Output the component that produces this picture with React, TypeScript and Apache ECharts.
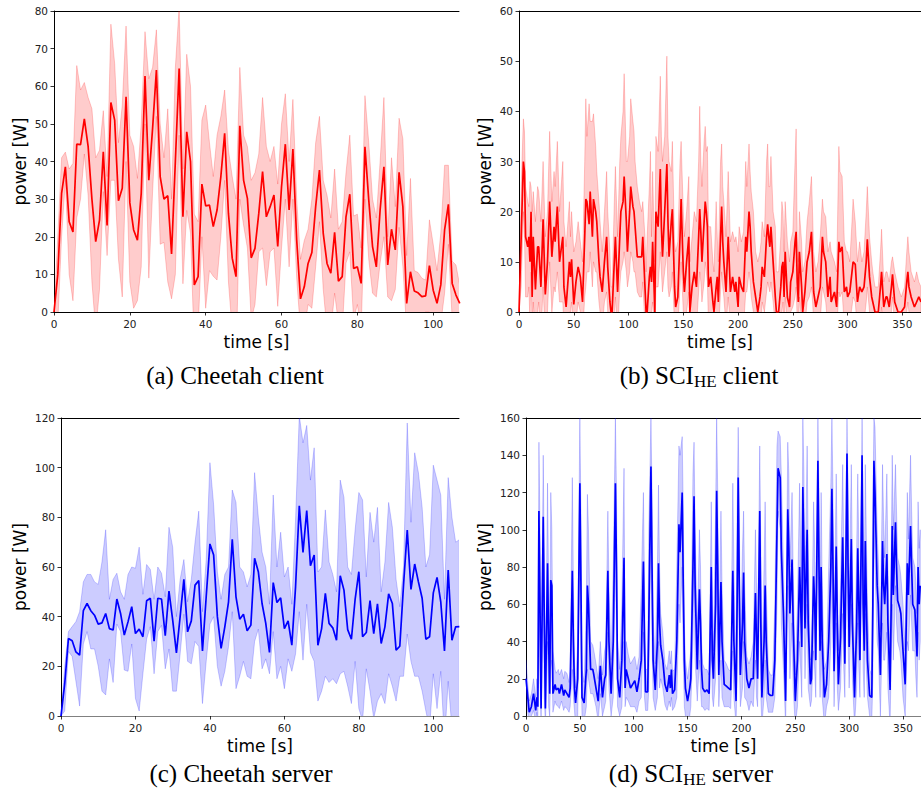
import React, { useEffect, useRef } from 'react';
import * as echarts from 'echarts';

// ---------- (a) Cheetah client : 1 s sampling, t = 0..107 ----------
const meanA = [0, 10, 31.5, 38.6, 24, 21.3, 44.6, 44.5, 51.3, 44,
  30, 18.7, 24.4, 42.6, 23, 55.7, 51, 29.6, 32.9, 57.2,
  29, 21.8, 19.1, 31.5, 62.7, 35, 48.8, 64.3, 36, 30,
  30.9, 15.4, 40, 64.7, 25.3, 47.9, 40, 7.2, 9.4, 34,
  28.2, 28.4, 22.7, 27.1, 36, 47.5, 26.2, 14.3, 9.4, 49.5,
  35, 30.2, 14.4, 16.9, 26.2, 37.3, 25.3, 28, 31.1, 17.4,
  33.3, 44.6, 27.1, 43.3, 19.1, 3.5, 6.7, 12.9, 15.8, 28,
  37.7, 20.9, 12.9, 10.3, 21.2, 8.2, 9.4, 25.3, 31.3, 11.6,
  12, 7.6, 43.9, 29.8, 17.4, 12, 27.1, 38.6, 12.5, 22,
  16.5, 37.1, 28, 2.3, 10.7, 5.6, 5.1, 4.1, 4.3, 12.3,
  5.8, 2.3, 7.2, 21.8, 28.6, 7.6, 4.5, 2.3];
const upperA = [0, 20, 41, 42.5, 38, 39.5, 65.5, 59, 61, 57,
  54, 41, 43, 53.5, 36, 76.5, 66, 45, 55, 76,
  47, 44, 35.5, 50, 74.5, 62, 65, 75, 50, 41,
  54, 30, 65, 81, 38, 68.5, 60, 26, 24, 51,
  55, 45, 36, 47, 52, 59, 43, 36, 30, 65,
  47, 44, 35, 37, 42, 57, 44, 40, 44, 34,
  50, 58, 40, 56.5, 30, 14, 19, 22, 30, 45,
  52, 35, 31, 25, 38, 22, 24, 37, 47, 25.5,
  26, 17, 57.5, 45, 30, 25, 40, 57, 20, 41,
  28, 51.5, 46, 15, 35.5, 11, 10.5, 9, 8.5, 24.5,
  18, 11, 21, 39, 39, 13.5, 12.5, 7];
const lowerA = [0, -3, 20, 35, 10, 3, 25, 30, 42, 31,
  8, -5, 6, 32, 15, 35, 35, 14, 4, 40,
  8, 1, 3, 12, 50, 9, 32, 52, 18, 18.5,
  8, 3.5, 10, 47, 7.5, 27, 21, -10, -5, 20,
  1, 11, 9.5, 8.5, 20, 35, 8, -5, -15, 30,
  23, 17, -2, 2, 16, 17, 7, 16, 17, 1.5,
  17, 30, 12, 30, 9, -5, -5, 2, 1, 12,
  24, 6, -5, -5, 5, -3, -5, 13, 16, -2,
  2, -5, 30, 14, 5, 4, 13, 20, 4, 3,
  6, 22.5, 12, -5, -3, -2, -1, -1, 0, 0,
  -5, -5, -3, 5, 18, -2, -3, -3];
const tA = meanA.map((_, i) => i);

// ---------- (c) Cheetah server : 1 s sampling, t = 0..107 ----------
const meanC = [0, 13, 31.2, 30.3, 25.8, 24.5, 42.4, 45.3, 42.4, 40.6,
  37, 37.5, 41.3, 35.2, 34.6, 47.1, 41.3, 32.6, 37.9, 44,
  33.2, 35, 31.9, 46.4, 47.4, 30.1, 47.4, 47.1, 32.3, 50.3,
  38.6, 25.4, 40, 55, 33.9, 38.3, 52.7, 54.5, 26.2, 48,
  69.3, 64.8, 40, 27.2, 35.9, 46, 71.2, 48, 39, 41,
  34.3, 36.6, 63.5, 58.1, 45.3, 37.3, 25.6, 53.7, 45.7, 47.6,
  35.2, 38.3, 28.5, 52, 84.6, 65.9, 82.7, 60.5, 64.8, 28.5,
  35.2, 49.4, 37.3, 35.5, 30.5, 56.5, 50.7, 34.8, 30.9, 47,
  58.1, 31.9, 33.6, 46.5, 33.2, 45.2, 29.2, 35.9, 49.2, 45.3,
  26.5, 28.1, 52.7, 74.9, 51, 61.2, 54, 47.4, 30.9, 31.9,
  49.6, 55.8, 46, 26.2, 58.8, 30.5, 35.9, 36];
const upperC = [0, 20, 34, 36, 38, 42, 54, 57, 57, 54,
  53, 62, 75, 47, 55, 57.5, 50, 47, 57, 60,
  59.5, 68, 49, 61, 59, 47, 60, 57.5, 48, 76,
  68, 40, 55, 63, 46, 55, 70, 82.5, 42, 63,
  102, 85, 58, 47, 57, 60, 91, 86, 60, 58,
  52, 57, 98, 80, 66, 60, 45, 89, 60, 74,
  56, 60, 45, 79, 121, 110, 117, 95, 108, 58,
  60, 83, 62, 57, 50, 95, 88, 60, 57, 75,
  90, 87, 56, 82, 70, 84, 50, 62, 86, 76,
  55, 44, 60, 118, 78, 106, 98, 84, 60, 65,
  101, 95, 89, 47, 96, 80, 70, 71];
const lowerC = [0, 2, 26, 24, 14, 4, 29, 34, 27, 27,
  20, 10, 8.5, 23, 13.5, 37, 34, 18.5, 18, 29,
  7, 2, 17, 31, 36, 17, 34, 36.5, 19, 27,
  10, 10, 25, 41, 22, 21, 30, 28, 5, 22,
  37, 40, 20, 12, 18, 28, 42, 11, 16, 22,
  16, 15, 30, 35, 19, 23, 17, 34, 15, 20,
  11, 23, 18, 25, 42, 22.5, 45, 25.5, 22, 6,
  10, 16, 13.5, 15, 13, 17, 18, 12, 5, 22,
  3, -2, 19, 10, -1, 6, 9, 5, 17, 12,
  6, 16, 16, 33, 22, 16, 16, 10, 2, -5,
  17, 3, 18, -10, 14, -5, -10, -5];
const tC = meanC.map((_, i) => i);

// ---------- (b) SCI_HE client ----------
const tB = [0, 2, 4, 5, 6, 8, 9, 10, 11, 12,
  13, 15, 17, 18, 20, 22, 24, 26, 28, 30,
  32, 33, 35, 37, 40, 41, 43, 46, 47, 48,
  50, 52, 54, 56, 58, 60, 61, 62, 64, 65,
  67, 68, 70, 71, 73, 74, 76, 78, 80, 81,
  83, 84, 85, 87, 88, 90, 92, 93, 95, 96,
  98, 99, 101, 102, 104, 105, 106, 108, 110, 112,
  113, 115, 116, 117, 119, 120, 121, 122, 124, 125,
  127, 129, 130, 131, 133, 135, 136, 137, 139, 140,
  142, 143, 145, 147, 148, 150, 151, 153, 155, 156,
  158, 160, 162, 164, 165, 166, 167, 169, 170, 171,
  172, 173, 175, 177, 178, 180, 181, 182, 184, 185,
  186, 187, 189, 191, 193, 195, 197, 198, 200, 201,
  203, 205, 207, 208, 210, 211, 212, 214, 216, 218,
  220, 221, 222, 224, 226, 227, 228, 229, 230, 232,
  234, 235, 237, 239, 240, 241, 242, 243, 245, 247,
  248, 250, 252, 253, 254, 255, 256, 258, 259, 261,
  263, 265, 267, 268, 269, 271, 273, 275, 277, 278,
  280, 282, 284, 285, 288, 290, 292, 293, 295, 297,
  299, 300, 302, 304, 305, 307, 309, 311, 313, 315,
  317, 318, 320, 322, 323, 325, 328, 330, 331, 333,
  335, 336, 338, 340, 341, 343, 346, 349, 352, 354,
  355, 356, 358, 361, 363, 365, 367];
const meanB = [0, 15, 30, 28, 15, 13, 15, 10, 20, 3,
  15, 4.5, 13, 13, 5, 18.5, 3.5, 10, 22, 11,
  17, 14, 21, 10, 15, 5, 1, 10, 7, 10.5,
  1.5, 6, 9, 7, 2, 15, 22.5, 22, 17.5, 24,
  15, 22.5, 20, 18, 10, 7, 4, 10, 15, 9,
  2, 0, 0, 10, 15, 4, 15, 20, 22, 27,
  18, 12, 20, 25, 21, 20, 17, 11, 11, 11,
  15, 5, 0, 0, 7, 9, 6, 14, 0, 20,
  17, 28.5, 17, 11, 20, 29.5, 18, 11, 18, 20.5,
  5, 1, 3, 15, 22.5, 8, 4, 10, 15, 0,
  5, 8, 5, 15, 20.5, 16, 10, 18, 22, 20,
  17, 5, 7, 2, 0, 5, 7, 2, 15, 21,
  14, 10, 4, 15, 4, 7, 4, 6, 1, 7,
  5, 4, 15, 12, 20, 17, 12, 6, 3, 0,
  3, 5, 9, 7, 15, 17.5, 15, 13, 17, 10,
  3, 0, 0, 5, 9, 10, 3, 12, 3, 1,
  6, 8, 14, 16, 6, 2, 12, 5, 0, 4,
  10, 12, 16, 10, 4, 1, 3, 5, 15, 12,
  10, 3, 7, 2, 4, 1, 14, 12, 13, 4,
  5, 3, 4, 8, 10, 9.5, 2, 5, 4, 5,
  10, 14.5, 7, 3, 2, 0, 0, 5, 8, 1,
  3, 3, 1, 5, 7.5, 2, 0, 0, 1, 6,
  8, 5, 3, 1, 2, 3, 2];
const upperB = [0, 25, 38.5, 36, 25, 22, 21, 26, 25, 20,
  24, 18, 25, 24, 18, 30, 15, 20, 36, 22,
  28, 25, 34, 20, 30, 18, 13, 22, 15, 20,
  12, 14, 18, 14, 10, 30, 42.5, 35, 41.5, 38,
  38, 39.5, 33, 28, 22, 18, 12, 20, 28, 20,
  12, 5, 5, 22, 29, 15, 30, 35, 40, 47.5,
  30, 30, 35, 42.5, 38, 36, 30, 25, 22, 20,
  22, 15, 8, 15, 25, 32, 15, 28, 10, 35,
  32, 47, 35, 30, 35, 51, 35, 30, 28, 34,
  14, 12, 14, 30, 34, 20, 15, 20, 27, 10,
  15, 20, 18, 30, 41, 30, 25, 34, 37, 32,
  33, 17, 17, 10, 8, 22, 15, 10, 30, 33.5,
  25, 22, 15, 28, 14, 16, 14, 15, 12, 17,
  14, 16, 30, 25, 33.5, 28, 24, 20, 12, 10,
  12, 14, 18, 15, 30, 33.5, 25, 25, 31, 20,
  17, 8, 8, 15, 22, 20, 12, 22, 14, 10,
  14, 16, 30, 36.5, 15, 10, 20, 14, 8, 10,
  18, 22, 27, 20, 12, 8, 10, 15, 22.5, 20,
  19, 12, 14, 12, 10, 8, 33, 28, 27, 14,
  12, 12, 10, 18, 22.5, 18, 10, 14, 10, 12,
  20, 25, 15, 10, 8, 5, 5, 12, 16.5, 6,
  8, 8, 6, 10, 11, 8, 5, 3, 5, 12,
  15, 12, 8, 6, 8, 6, 5];
const lowerB = [0, 5, 20, 15, 3, 3, 5, -2, 8, -5,
  2, -5, 0, 2, -5, 5, -5, 0, 10, 0,
  5, 4, 8, 2, 2, -3, -5, 0, 0, 2,
  -5, -2, 2, 0, -5, 3, 5, 8, 8, 12,
  5, 10, 8, 8, 2, 0, -3, 2, 4, 0,
  -5, -5, -5, 0, 3, -5, 5, 8, 10, 12,
  8, 5, 8, 12, 10, 8, 8, 4, 3, 3,
  6, -3, -5, -5, -3, 0, 0, 2, -5, 5,
  5, 12, 8, 4, 8, 12, 5, 3, 5, 8,
  -3, -5, -3, 5, 10, 0, -3, 0, 4, -5,
  -3, 0, -3, 4, 8, 6, 2, 6, 10, 8,
  6, -3, -2, -5, -5, -3, 0, -5, 4, 8,
  5, 3, -3, 3, -3, 0, -3, 0, -5, 0,
  -2, -3, 4, 4, 8, 6, 3, 0, -3, -5,
  -3, -2, 2, 0, 4, 6, 5, 4, 6, 2,
  -3, -5, -5, -3, 0, 2, -3, 3, -3, -5,
  0, 1, 3, 5, -2, -5, 3, -2, -5, -3,
  2, 3, 5, 2, -2, -5, -3, -2, 5, 4,
  2, -3, 0, -4, -2, -4, 4, 3, 4, -3,
  -2, -3, -2, 1, 3, 2, -4, -2, -2, -2,
  2, 5, 0, -3, -3, -5, -5, -2, 1, -4,
  -2, -2, -4, 0, 3, -3, -5, -3, -3, 0,
  2, 0, -2, -4, -2, 0, -1];

// ---------- (d) SCI_HE server ----------
const tD = [0, 2, 3, 5, 7, 9, 10, 11, 12, 13,
  14, 16, 17, 18, 20, 21, 22, 23, 24, 25,
  27, 28, 30, 31, 33, 35, 36, 38, 40, 41,
  43, 44, 45, 46, 48, 50, 51, 52, 54, 56,
  57, 58, 60, 62, 63, 65, 67, 69, 71, 73,
  74, 76, 77, 79, 81, 83, 84, 85, 87, 89,
  91, 92, 93, 95, 97, 99, 101, 103, 105, 107,
  109, 110, 111, 113, 114, 116, 117, 118, 120, 122,
  123, 124, 125, 127, 129, 131, 133, 134, 135, 136,
  138, 140, 142, 143, 145, 146, 147, 148, 150, 152,
  153, 155, 156, 157, 159, 161, 162, 163, 164, 166,
  168, 170, 172, 173, 174, 176, 177, 178, 179, 181,
  182, 184, 186, 188, 190, 192, 193, 195, 196, 197,
  198, 199, 201, 202, 203, 205, 207, 209, 211, 213,
  214, 215, 217, 218, 219, 221, 222, 223, 225, 227,
  229, 231, 233, 234, 236, 237, 239, 241, 243, 244,
  245, 247, 248, 250, 252, 254, 255, 256, 257, 258,
  259, 261, 262, 264, 265, 267, 268, 269, 271, 272,
  273, 274, 275, 277, 279, 281, 283, 284, 285, 286,
  288, 289, 290, 292, 294, 295, 296, 298, 299, 300,
  302, 303, 305, 307, 308, 309, 310, 312, 313, 314,
  315, 316, 317, 319, 321, 322, 323, 324, 326, 327,
  329, 331, 332, 333, 335, 336, 338, 340, 341, 343,
  344, 345, 347, 348, 350, 352, 354, 355, 357, 358,
  359, 361, 362, 363, 364, 365, 366];
const meanD = [20, 8, 2, 5, 12, 3, 10, 5, 110, 60,
  4, 107, 50, 4, 82, 40, 12, 73, 70, 12,
  17, 14, 15, 12, 17, 11, 14, 12, 10, 15,
  78, 40, 15, 7, 20, 125, 70, 10, 7, 25,
  70, 60, 25, 25, 22, 15, 8, 27, 10, 20,
  22, 78, 40, 12, 40, 125, 80, 20, 10, 30,
  85, 15, 25, 20, 15, 17, 19, 13, 20, 30,
  83, 40, 13, 13, 50, 134, 80, 30, 14, 40,
  82, 50, 38, 30, 17, 13, 22, 15, 25, 12,
  14, 40, 103, 88, 120, 70, 30, 15, 8, 15,
  20, 80, 118, 70, 25, 68, 50, 25, 15, 13,
  14, 12, 80, 30, 20, 60, 121, 80, 22, 72,
  40, 17, 16, 15, 14, 78, 40, 8, 60, 128,
  70, 22, 50, 77, 40, 20, 15, 20, 20, 66,
  40, 20, 110, 50, 10, 40, 70, 40, 12, 11,
  11, 30, 100, 133, 128, 90, 55, 8, 111, 90,
  55, 84, 50, 8, 30, 80, 60, 37, 123, 90,
  47, 100, 50, 17, 20, 75, 60, 30, 137, 80,
  35, 80, 40, 10, 17, 40, 80, 122, 80, 24,
  91, 50, 17, 42, 96, 60, 28, 141, 80, 37,
  95, 50, 10, 50, 90, 60, 30, 140, 60, 35,
  94, 60, 30, 11, 10, 60, 137, 120, 70, 60,
  22, 94, 70, 60, 87, 50, 14, 102, 65, 104,
  80, 62, 58, 55, 35, 17, 82, 65, 102, 80,
  60, 57, 45, 32, 80, 60, 70];
const upperD = [30, 15, 8, 12, 20, 10, 20, 15, 147, 100,
  15, 140, 80, 15, 125, 70, 25, 120, 100, 35,
  25, 23, 25, 22, 25, 20, 24, 23, 18, 25,
  128, 70, 30, 15, 40, 160, 110, 25, 18, 60,
  119, 100, 40, 38, 35, 28, 20, 40, 22, 35,
  38, 110, 70, 30, 80, 160, 120, 40, 25, 60,
  133, 30, 40, 33, 28, 30, 32, 25, 32, 70,
  120, 70, 25, 25, 100, 160, 120, 55, 28, 80,
  124, 80, 55, 45, 28, 25, 35, 28, 35, 24,
  25, 80, 145, 140, 150, 110, 50, 30, 20, 30,
  35, 130, 147, 100, 45, 100, 80, 40, 28, 25,
  25, 22, 115, 60, 35, 110, 160, 120, 40, 110,
  70, 30, 28, 25, 24, 125, 80, 20, 110, 155,
  110, 40, 90, 110, 70, 32, 28, 32, 40, 100,
  70, 35, 145, 90, 25, 80, 115, 70, 25, 22,
  22, 60, 145, 153, 150, 130, 80, 20, 147, 130,
  80, 120, 80, 22, 60, 125, 90, 60, 160, 130,
  70, 145, 90, 30, 32, 115, 90, 50, 160, 120,
  60, 120, 70, 25, 30, 80, 125, 160, 120, 45,
  130, 80, 35, 70, 135, 90, 50, 160, 120, 60,
  135, 80, 25, 90, 130, 90, 50, 160, 100, 60,
  135, 95, 60, 25, 22, 110, 160, 155, 100, 85,
  45, 135, 105, 85, 130, 80, 30, 140, 100, 135,
  110, 85, 80, 75, 60, 35, 120, 95, 140, 110,
  85, 80, 70, 55, 115, 90, 100];
const lowerD = [10, 0, -3, 0, 3, -3, 2, -3, 70, 20,
  -5, 70, 10, -5, 40, 5, 0, 25, 30, 2,
  8, 6, 5, 4, 8, 3, 5, 4, 2, 5,
  25, 10, 3, -5, 0, 90, 30, 0, -3, 5,
  25, 20, 12, 12, 10, 5, -3, 12, 0, 5,
  8, 45, 15, 0, 10, 90, 40, 5, 0, 5,
  40, 5, 10, 8, 5, 5, 5, 2, 8, 10,
  45, 10, 3, 3, 15, 105, 40, 10, 3, 10,
  40, 15, 20, 15, 6, 3, 8, 5, 10, 3,
  5, 10, 60, 50, 80, 30, 5, 0, -5, 0,
  5, 40, 80, 30, 8, 30, 15, 5, 5, 3,
  4, 3, 45, 10, 5, 20, 80, 40, 5, 30,
  10, 5, 5, 5, 4, 35, 10, -5, 20, 100,
  30, 5, 15, 40, 10, 8, 3, 8, 5, 30,
  10, 5, 75, 10, -5, 10, 30, 10, 2, 2,
  2, 10, 60, 110, 100, 50, 25, -5, 70, 50,
  20, 50, 15, -5, 5, 40, 25, 10, 85, 50,
  20, 60, 15, 5, 8, 35, 25, 10, 105, 40,
  10, 40, 10, -5, 5, 10, 40, 85, 40, 5,
  50, 15, 3, 15, 55, 25, 10, 110, 40, 15,
  60, 20, -5, 15, 50, 25, 10, 105, 25, 10,
  55, 25, 10, 0, -3, 20, 105, 80, 40, 35,
  0, 50, 30, 30, 45, 15, -5, 60, 30, 70,
  50, 40, 35, 30, 10, 0, 40, 35, 65, 50,
  35, 35, 20, 10, 45, 30, 40];

// ---------- axes ticks / texts ----------
const xTicksShort = [0, 20, 40, 60, 80, 100];
const xTicksLong = [0, 50, 100, 150, 200, 250, 300, 350];
const captions = ['(a) Cheetah client', '(b) SCI|HE| client', '(c) Cheetah server', '(d) SCI|HE| server'];
const xName = 'time [s]';
const yName = 'power [W]';

const SANS = "'DejaVu Sans', sans-serif";
const SERIF = "'Liberation Serif', 'Times New Roman', serif";

type Panel = {
  t: number[]; mean: number[]; up: number[]; lo: number[];
  xMax: number; yMax: number; yStep: number; xTicks: number[];
  line: string; fill: string; edge: string;
  grid: { left: number; top: number; width: number; height: number };
  yGap: number; bottomColor: string;
  cap: { x: number; y: number };
};

const panels: Panel[] = [
  { t: tA, mean: meanA, up: upperA, lo: lowerA, xMax: 106.8, yMax: 80, yStep: 10, xTicks: xTicksShort,
    line: '#ff0000', fill: 'rgba(255,0,0,0.2)', edge: 'rgba(255,0,0,0.2)',
    grid: { left: 54, top: 11, width: 405, height: 301 }, yGap: 26, bottomColor: '#000', cap: { x: 235, y: 375 } },
  { t: tB, mean: meanB, up: upperB, lo: lowerB, xMax: 367, yMax: 60, yStep: 10, xTicks: xTicksLong,
    line: '#ff0000', fill: 'rgba(255,0,0,0.2)', edge: 'rgba(255,0,0,0.2)',
    grid: { left: 519, top: 11, width: 402, height: 301 }, yGap: 26, bottomColor: '#000', cap: { x: 699, y: 375 } },
  { t: tC, mean: meanC, up: upperC, lo: lowerC, xMax: 106.9, yMax: 120, yStep: 20, xTicks: xTicksShort,
    line: '#0000ff', fill: 'rgba(0,0,255,0.2)', edge: 'rgba(0,0,255,0.2)',
    grid: { left: 61, top: 418, width: 398, height: 298 }, yGap: 33, bottomColor: '#808080', cap: { x: 241, y: 773 } },
  { t: tD, mean: meanD, up: upperD, lo: lowerD, xMax: 366.7, yMax: 160, yStep: 20, xTicks: xTicksLong,
    line: '#0000ff', fill: 'rgba(0,0,255,0.2)', edge: 'rgba(0,0,255,0.2)',
    grid: { left: 526, top: 418, width: 395, height: 298 }, yGap: 33, bottomColor: '#808080', cap: { x: 691, y: 773 } },
];

function captionText(c: string): string {
  const parts = c.split('|');
  if (parts.length === 1) return `{m|${c}}`;
  return `{m|${parts[0]}}{s|${parts[1]}}{m|${parts[2]}}`;
}

export default function App() {
  const ref = useRef<HTMLDivElement>(null);
  useEffect(() => {
    const chart = echarts.init(ref.current as HTMLDivElement, undefined, { renderer: 'svg' });
    const grid: any[] = [];
    const xAxis: any[] = [];
    const yAxis: any[] = [];
    const series: any[] = [];
    const graphic: any[] = [];
    const labelStyle = { fontSize: 10.5, fontFamily: SANS, color: '#222' };

    panels.forEach((p, i) => {
      grid.push({ ...p.grid, containLabel: false });
      xAxis.push({
        type: 'value', gridIndex: i, min: 0, max: p.xMax, position: 'bottom',
        axisLine: { show: true, onZero: false, lineStyle: { color: p.bottomColor, width: 1 } },
        axisTick: { show: true, length: 3.5, customValues: p.xTicks, lineStyle: { color: '#000', width: 0.8 } },
        axisLabel: { ...labelStyle, margin: 6, customValues: p.xTicks },
        splitLine: { show: false },
        name: xName, nameLocation: 'middle', nameGap: 21,
        nameTextStyle: { fontSize: 17, fontFamily: SANS, color: '#000' },
      });
      xAxis.push({
        type: 'value', gridIndex: i, min: 0, max: p.xMax, position: 'top',
        axisLine: { show: true, onZero: false, lineStyle: { color: '#000', width: 1 } },
        axisTick: { show: false }, axisLabel: { show: false }, splitLine: { show: false },
      });
      yAxis.push({
        type: 'value', gridIndex: i, min: 0, max: p.yMax, interval: p.yStep,
        axisLine: { show: true, onZero: false, lineStyle: { color: '#000', width: 1 } },
        axisTick: { show: true, length: 3.5, lineStyle: { color: '#000', width: 0.8 } },
        axisLabel: { ...labelStyle, margin: 6 },
        splitLine: { show: false },
        name: yName, nameLocation: 'middle', nameGap: p.yGap,
        nameTextStyle: { fontSize: 17, fontFamily: SANS, color: '#000' },
      });
      // confidence band: one polygon through the upper values and back along the lower values
      series.push({
        type: 'custom', xAxisIndex: i * 2, yAxisIndex: i, silent: true, z: 1,
        data: p.t.map((x, k) => [x, p.up[k], p.lo[k]]),
        encode: { x: 0, y: [1, 2] },
        renderItem: (params: any, api: any) => {
          if (params.dataIndex !== 0) return null;
          const pts: number[][] = [];
          for (let k = 0; k < p.t.length; k++) pts.push(api.coord([p.t[k], p.up[k]]));
          for (let k = p.t.length - 1; k >= 0; k--) pts.push(api.coord([p.t[k], p.lo[k]]));
          const cs = params.coordSys;
          return {
            type: 'polygon',
            shape: { points: pts },
            style: { fill: p.fill, stroke: p.edge, lineWidth: 1 },
            clipPath: { type: 'rect', shape: { x: cs.x, y: cs.y, width: cs.width, height: cs.height } },
          };
        },
      });
      series.push({
        type: 'line', xAxisIndex: i * 2, yAxisIndex: i,
        data: p.t.map((x, k) => [x, p.mean[k]]), symbol: 'none', silent: true,
        lineStyle: { color: p.line, width: 1.7 }, z: 3,
      });
      graphic.push({
        type: 'text', x: p.cap.x, y: p.cap.y, silent: true,
        style: {
          text: captionText(captions[i]),
          align: 'center', verticalAlign: 'middle',
          rich: {
            m: { fontSize: 25, fontFamily: SERIF, fill: '#000', lineHeight: 30 },
            s: { fontSize: 17, fontFamily: SERIF, fill: '#000', lineHeight: 27, verticalAlign: 'bottom' },
          },
        },
      });
    });

    chart.setOption({
      animation: false,
      backgroundColor: '#ffffff',
      grid, xAxis, yAxis, series, graphic,
    });
    return () => chart.dispose();
  }, []);
  return (
    <div
      ref={ref}
      style={{ position: 'absolute', left: 0, top: 0, width: 921, height: 793, background: '#fff' }}
    />
  );
}
